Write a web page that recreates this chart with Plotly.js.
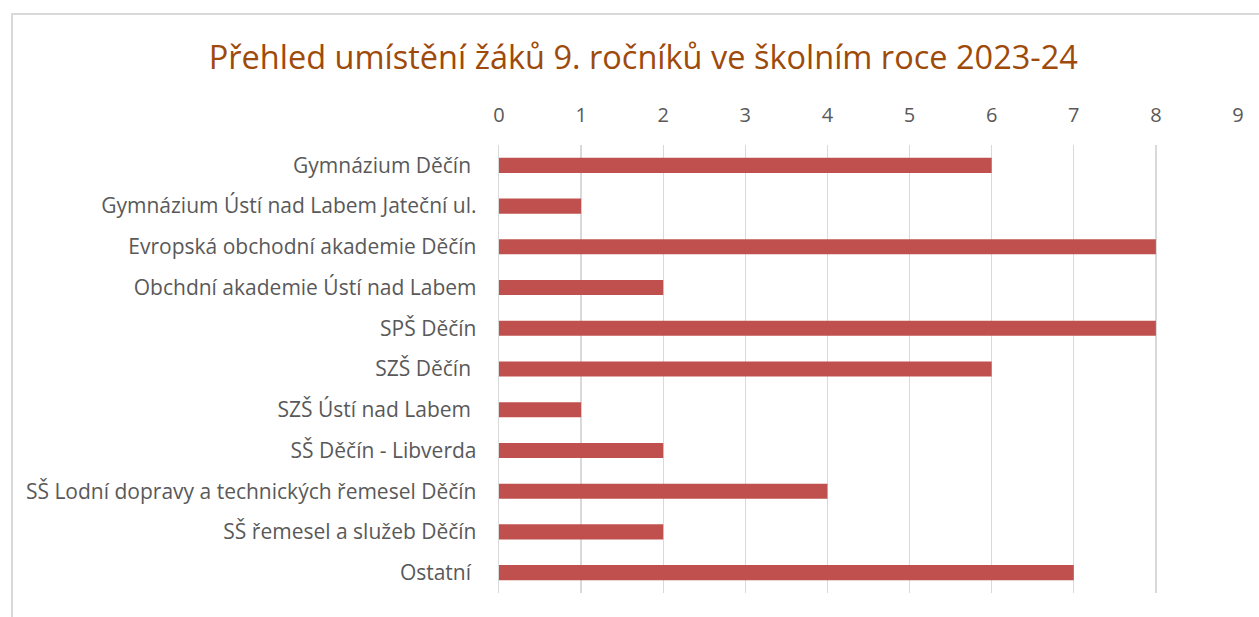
<!DOCTYPE html>
<html>
<head>
<meta charset="utf-8">
<script src="https://cdn.plot.ly/plotly-3.0.1.min.js"></script>
<style>
html,body{margin:0;padding:0;background:#fff;}
#frame{position:absolute;left:11px;top:13px;width:1300px;height:700px;border:2px solid #d9d9d9;box-sizing:border-box;}
#chart{position:absolute;left:0;top:0;width:1259px;height:617px;}
</style>
</head>
<body>
<div id="frame"></div>
<div id="chart"></div>
<script>
const categories = [
  "Gymnázium Děčín\u00a0",
  "Gymnázium Ústí nad Labem Jateční ul.",
  "Evropská obchodní akademie Děčín",
  "Obchdní akademie Ústí nad Labem",
  "SPŠ Děčín",
  "SZŠ Děčín\u00a0",
  "SZŠ Ústí nad Labem\u00a0",
  "SŠ Děčín - Libverda",
  "SŠ Lodní dopravy a technických řemesel Děčín",
  "SŠ řemesel a služeb Děčín",
  "Ostatní\u00a0"
];
const values = [6, 1, 8, 2, 8, 6, 1, 2, 4, 2, 7];
const xTicks = [0,1,2,3,4,5,6,7,8,9];
const titleText = "Přehled umístění žáků 9. ročníků ve školním roce 2023-24";

const font = "'Open Sans', sans-serif";
Plotly.newPlot('chart', [{
  type: 'bar',
  orientation: 'h',
  y: categories,
  x: values,
  width: 0.37,
  marker: {color: '#C0504D'},
  hoverinfo: 'x+y'
}], {
  width: 1259, height: 617,
  paper_bgcolor: 'rgba(0,0,0,0)',
  plot_bgcolor: 'rgba(0,0,0,0)',
  margin: {l: 499, r: 21, t: 145, b: 24},
  showlegend: false,
  title: {
    text: titleText,
    font: {family: font, size: 32.5, color: '#9E4A0A'},
    x: 0.511, xref: 'container', xanchor: 'center',
    y: 0.906, yref: 'container', yanchor: 'middle'
  },
  xaxis: {
    side: 'top',
    range: [0, 9],
    tickvals: xTicks,
    ticktext: xTicks.map(String),
    showgrid: true,
    gridcolor: '#d9d9d9',
    gridwidth: 1.3,
    zeroline: false,
    showline: false,
    ticks: '',
    ticklabelstandoff: 18,
    tickfont: {family: font, size: 20, color: '#595959'},
    fixedrange: true
  },
  yaxis: {
    autorange: 'reversed',
    type: 'category',
    showgrid: false,
    showline: true,
    linecolor: '#d9d9d9',
    linewidth: 1.3,
    zeroline: false,
    ticks: '',
    ticklabelstandoff: 17,
    tickfont: {family: font, size: 21, color: '#595959'},
    fixedrange: true
  }
}, {displayModeBar: false, staticPlot: true});
</script>
</body>
</html>
